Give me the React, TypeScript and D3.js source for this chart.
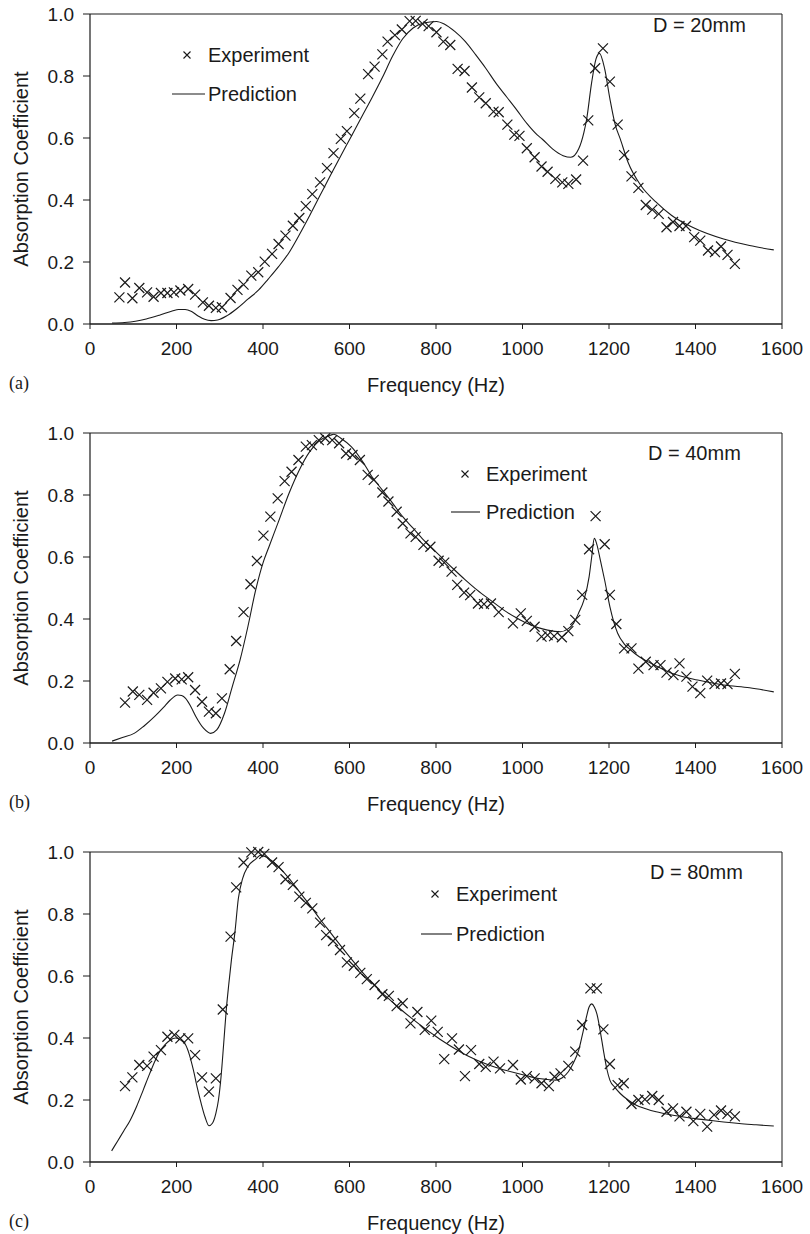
import React, { useEffect } from "react";
import * as d3 from "d3";

// frequency (Hz), absorption coefficient
const expA: [number, number][] = [
  [68, 0.086], [81, 0.134], [98, 0.083], [114, 0.116], [132, 0.102], [147, 0.088], [164, 0.1], [179, 0.1],
  [194, 0.102], [209, 0.108], [227, 0.113], [243, 0.095], [261, 0.07], [275, 0.059], [291, 0.052], [305, 0.054],
  [325, 0.084], [341, 0.11], [355, 0.127], [373, 0.156], [389, 0.167], [404, 0.201], [421, 0.226], [436, 0.258],
  [452, 0.285], [469, 0.317], [484, 0.342], [499, 0.38], [514, 0.419], [532, 0.457], [548, 0.503], [563, 0.551],
  [580, 0.597], [594, 0.622], [611, 0.68], [625, 0.727], [643, 0.806], [658, 0.83], [676, 0.87], [688, 0.911],
  [705, 0.932], [721, 0.95], [739, 0.977], [753, 0.978], [769, 0.968], [783, 0.961], [801, 0.941], [817, 0.911],
  [833, 0.9], [850, 0.823], [866, 0.816], [883, 0.763], [900, 0.731], [915, 0.712], [933, 0.685], [945, 0.683],
  [965, 0.643], [981, 0.611], [993, 0.607], [1010, 0.567], [1028, 0.538], [1044, 0.508], [1058, 0.491],
  [1076, 0.468], [1092, 0.457], [1106, 0.452], [1124, 0.466], [1140, 0.527], [1152, 0.657], [1168, 0.825],
  [1186, 0.889], [1202, 0.782], [1220, 0.643], [1235, 0.545], [1252, 0.476], [1268, 0.439], [1285, 0.384],
  [1300, 0.369], [1315, 0.355], [1333, 0.312], [1348, 0.329], [1363, 0.316], [1378, 0.316], [1397, 0.28],
  [1411, 0.269], [1429, 0.237], [1445, 0.232], [1459, 0.25], [1474, 0.223], [1491, 0.194],
];
const predA: [number, number][] = [
  [51, 0.003], [80, 0.005], [105, 0.009], [130, 0.016], [162, 0.029], [190, 0.042], [205, 0.047], [220, 0.047],
  [235, 0.04], [250, 0.026], [265, 0.015], [280, 0.011], [295, 0.013], [317, 0.027], [340, 0.05], [365, 0.08],
  [390, 0.11], [412, 0.145], [436, 0.185], [460, 0.23], [484, 0.288], [508, 0.35], [532, 0.415], [556, 0.48],
  [580, 0.543], [604, 0.605], [628, 0.668], [652, 0.73], [676, 0.795], [700, 0.865], [723, 0.92],
  [747, 0.955], [771, 0.971], [801, 0.976], [819, 0.968], [844, 0.943], [868, 0.911], [892, 0.868], [915, 0.825],
  [939, 0.776], [963, 0.733], [987, 0.69], [1010, 0.647], [1034, 0.61], [1046, 0.596], [1070, 0.564],
  [1094, 0.543], [1112, 0.538], [1130, 0.565], [1142, 0.618], [1148, 0.658], [1160, 0.78], [1170, 0.855],
  [1178, 0.873], [1190, 0.823], [1202, 0.727], [1214, 0.645], [1226, 0.597], [1244, 0.522], [1274, 0.446],
  [1309, 0.393], [1345, 0.35], [1393, 0.312], [1465, 0.274], [1525, 0.253], [1581, 0.239],
];

const expB: [number, number][] = [
  [81, 0.13], [99, 0.166], [114, 0.155], [132, 0.139], [147, 0.162], [164, 0.176], [179, 0.197], [197, 0.208],
  [212, 0.205], [227, 0.212], [243, 0.171], [259, 0.133], [275, 0.101], [291, 0.096], [305, 0.144], [323, 0.238],
  [338, 0.329], [355, 0.422], [371, 0.512], [386, 0.587], [401, 0.669], [417, 0.73], [434, 0.789], [450, 0.845],
  [466, 0.875], [482, 0.913], [499, 0.956], [513, 0.961], [529, 0.977], [544, 0.983], [560, 0.977], [576, 0.967],
  [592, 0.934], [607, 0.929], [624, 0.913], [642, 0.865], [656, 0.849], [676, 0.808], [690, 0.779], [709, 0.746],
  [723, 0.708], [741, 0.676], [753, 0.665], [771, 0.639], [787, 0.633], [806, 0.588], [819, 0.582], [836, 0.553],
  [849, 0.51], [865, 0.485], [879, 0.477], [897, 0.45], [911, 0.448], [927, 0.45], [945, 0.422], [978, 0.386],
  [996, 0.418], [1010, 0.394], [1028, 0.375], [1044, 0.343], [1058, 0.348], [1073, 0.345], [1091, 0.341],
  [1106, 0.361], [1122, 0.397], [1138, 0.478], [1154, 0.625], [1169, 0.732], [1190, 0.641], [1202, 0.478],
  [1217, 0.384], [1235, 0.305], [1252, 0.305], [1268, 0.24], [1285, 0.262], [1303, 0.251], [1319, 0.251],
  [1333, 0.227], [1349, 0.219], [1363, 0.257], [1379, 0.214], [1393, 0.182], [1411, 0.161], [1427, 0.201],
  [1444, 0.19], [1459, 0.192], [1474, 0.19], [1491, 0.223],
];
const predB: [number, number][] = [
  [51, 0.006], [75, 0.018], [102, 0.031], [125, 0.055], [149, 0.085], [170, 0.115], [185, 0.138], [203, 0.155],
  [212, 0.153], [221, 0.144], [233, 0.118], [245, 0.085], [263, 0.047], [279, 0.031], [293, 0.042], [311, 0.096],
  [329, 0.182], [347, 0.268], [365, 0.375], [383, 0.493], [401, 0.585], [413, 0.63], [436, 0.715], [460, 0.805],
  [484, 0.881], [508, 0.94], [532, 0.977], [556, 0.993], [564, 0.996], [580, 0.983], [604, 0.956], [628, 0.913],
  [652, 0.859], [676, 0.816], [700, 0.773], [723, 0.73], [747, 0.693], [771, 0.655], [795, 0.623], [819, 0.59],
  [843, 0.558], [867, 0.527], [891, 0.498], [915, 0.472], [939, 0.447], [963, 0.423], [987, 0.403], [1010, 0.386],
  [1034, 0.373], [1058, 0.364], [1088, 0.359], [1105, 0.368], [1118, 0.386], [1130, 0.42], [1142, 0.461],
  [1154, 0.536], [1160, 0.6], [1166, 0.66], [1172, 0.64], [1180, 0.59], [1190, 0.525], [1202, 0.44],
  [1220, 0.354], [1235, 0.32], [1250, 0.3], [1270, 0.278], [1297, 0.257], [1345, 0.225], [1405, 0.203],
  [1465, 0.187], [1525, 0.178], [1581, 0.165],
];

const expC: [number, number][] = [
  [81, 0.245], [98, 0.273], [114, 0.313], [132, 0.31], [147, 0.34], [164, 0.361], [179, 0.404], [195, 0.41],
  [209, 0.399], [227, 0.399], [243, 0.345], [259, 0.273], [275, 0.227], [291, 0.27], [307, 0.492], [325, 0.727],
  [338, 0.886], [355, 0.966], [373, 0.999], [389, 1.0], [403, 0.994], [421, 0.966], [436, 0.951], [452, 0.912],
  [469, 0.894], [484, 0.856], [499, 0.836], [514, 0.818], [532, 0.772], [546, 0.732], [562, 0.713], [578, 0.684],
  [594, 0.644], [610, 0.633], [625, 0.61], [640, 0.59], [658, 0.571], [676, 0.541], [691, 0.536], [709, 0.503],
  [723, 0.512], [741, 0.447], [757, 0.484], [774, 0.426], [789, 0.456], [804, 0.42], [819, 0.332], [837, 0.399],
  [853, 0.363], [867, 0.277], [881, 0.361], [900, 0.316], [915, 0.307], [933, 0.324], [948, 0.302], [978, 0.313],
  [996, 0.266], [1010, 0.277], [1028, 0.27], [1044, 0.254], [1061, 0.245], [1074, 0.275], [1088, 0.286],
  [1106, 0.31], [1122, 0.356], [1138, 0.442], [1157, 0.56], [1172, 0.56], [1187, 0.428], [1202, 0.316],
  [1220, 0.248], [1234, 0.254], [1252, 0.187], [1268, 0.2], [1283, 0.202], [1300, 0.213], [1315, 0.2],
  [1333, 0.162], [1348, 0.173], [1363, 0.147], [1379, 0.162], [1395, 0.132], [1411, 0.155], [1427, 0.114],
  [1443, 0.152], [1459, 0.166], [1474, 0.155], [1491, 0.147],
];
const predC: [number, number][] = [
  [50, 0.036], [64, 0.068], [78, 0.1], [93, 0.135], [108, 0.18], [123, 0.232], [138, 0.285], [150, 0.325],
  [161, 0.356], [173, 0.378], [185, 0.393], [198, 0.4], [210, 0.393], [221, 0.378], [230, 0.345], [239, 0.297],
  [248, 0.24], [257, 0.189], [266, 0.145], [275, 0.117], [283, 0.125], [291, 0.157], [297, 0.2], [303, 0.275],
  [309, 0.38], [315, 0.49], [321, 0.575], [327, 0.652], [335, 0.74], [343, 0.85], [353, 0.915], [365, 0.953],
  [383, 0.977], [395, 0.99], [413, 0.979], [436, 0.953], [460, 0.915], [484, 0.872], [508, 0.829], [532, 0.783],
  [556, 0.74], [580, 0.697], [604, 0.655], [628, 0.615], [652, 0.578], [676, 0.545], [700, 0.515], [723, 0.487],
  [747, 0.46], [771, 0.434], [795, 0.41], [819, 0.387], [843, 0.366], [867, 0.347], [891, 0.331], [915, 0.317],
  [939, 0.305], [963, 0.295], [987, 0.286], [1010, 0.278], [1034, 0.27], [1058, 0.266], [1076, 0.264],
  [1092, 0.272], [1106, 0.291], [1118, 0.32], [1130, 0.361], [1140, 0.42], [1148, 0.469], [1154, 0.5],
  [1160, 0.51], [1166, 0.5], [1172, 0.478], [1180, 0.42], [1187, 0.361], [1195, 0.3], [1202, 0.264],
  [1214, 0.24], [1226, 0.221], [1244, 0.2], [1262, 0.184], [1285, 0.172], [1309, 0.162], [1339, 0.153],
  [1369, 0.146], [1399, 0.14], [1429, 0.135], [1465, 0.129], [1501, 0.124], [1540, 0.12], [1581, 0.116],
];

const panelLabels = ["(a)", "(b)", "(c)"];
const depthLabels = ["D = 20mm", "D = 40mm", "D = 80mm"];
const xTicks = [0, 200, 400, 600, 800, 1000, 1200, 1400, 1600];
const yTicks = [0, 0.2, 0.4, 0.6, 0.8, 1.0];

const W = 810;
const H = 1234;
const left = 90;
const right = 782;
const plotH = 310;
const tops = [14, 433, 852];
// legend placement per panel: marker x, row y offsets, D label
const legends = [
  { mx: 187, tx: 208, lx0: 172, lx1: 205, y1: 41, y2: 80, dx: 653, dy: 11 },
  { mx: 465, tx: 486, lx0: 451, lx1: 480, y1: 41, y2: 79, dx: 648, dy: 20 },
  { mx: 435, tx: 456, lx0: 421, lx1: 452, y1: 42, y2: 82, dx: 650, dy: 20 },
];

const sans = "'Liberation Sans', Arial, Helvetica, sans-serif";
const ink = "#1a1a1a";

const x = d3.scaleLinear().domain([0, 1600]).range([left, right]);

function Cross({ cx, cy, r, w }: { cx: number; cy: number; r: number; w: number }) {
  return (
    <path
      d={`M${cx - r},${cy - r}L${cx + r},${cy + r}M${cx - r},${cy + r}L${cx + r},${cy - r}`}
      stroke={ink}
      strokeWidth={w}
      fill="none"
    />
  );
}

function Panel({ i, exp, pred }: { i: number; exp: [number, number][]; pred: [number, number][] }) {
  const top = tops[i];
  const bottom = top + plotH;
  const y = d3.scaleLinear().domain([0, 1]).range([bottom, top]);
  const line = d3
    .line<[number, number]>()
    .x((d) => x(d[0]))
    .y((d) => y(d[1]))
    .curve(d3.curveMonotoneX);
  const lg = legends[i];
  const fmt = d3.format(".1f");
  return (
    <g>
      {/* plot frame */}
      <line x1={left} x2={right} y1={top} y2={top} stroke={ink} strokeWidth={1} />
      <line x1={right} x2={right} y1={top} y2={bottom} stroke={ink} strokeWidth={1} />
      <line x1={left} x2={left} y1={top} y2={bottom} stroke={ink} strokeWidth={1.2} />
      <line x1={left} x2={right} y1={bottom} y2={bottom} stroke={ink} strokeWidth={1.6} />
      {yTicks.map((t) => (
        <g key={t}>
          <line x1={left - 7} x2={left} y1={y(t)} y2={y(t)} stroke={ink} strokeWidth={1} />
          <text x={left - 16} y={y(t)} dy="0.36em" textAnchor="end" fontSize={19} fontFamily={sans} fill={ink}>
            {fmt(t)}
          </text>
        </g>
      ))}
      {xTicks.map((t) => (
        <g key={t}>
          <line x1={x(t)} x2={x(t)} y1={bottom} y2={bottom + 5} stroke={ink} strokeWidth={1} />
          <text x={x(t)} y={bottom + 24} dy="0.36em" textAnchor="middle" fontSize={19} fontFamily={sans} fill={ink}>
            {t}
          </text>
        </g>
      ))}
      <text x={436} y={bottom + 61} dy="0.36em" textAnchor="middle" fontSize={20} fontFamily={sans} fill={ink}>
        Frequency (Hz)
      </text>
      <text x={9} y={bottom + 59} dy="0.36em" fontSize={18} fontFamily="'Liberation Serif', 'Times New Roman', serif" fill={ink}>
        {panelLabels[i]}
      </text>
      <text
        transform={`translate(21,${(top + bottom) / 2}) rotate(-90)`}
        dy="0.36em"
        textAnchor="middle"
        fontSize={20}
        fontFamily={sans}
        fill={ink}
      >
        Absorption Coefficient
      </text>
      <path d={line(pred) || ""} fill="none" stroke={ink} strokeWidth={1.1} />
      {exp.map((d, k) => (
        <Cross key={k} cx={x(d[0])} cy={y(d[1])} r={5} w={1.2} />
      ))}
      {/* legend */}
      <Cross cx={lg.mx} cy={top + lg.y1} r={3.5} w={1.1} />
      <text x={lg.tx} y={top + lg.y1} dy="0.36em" fontSize={20} fontFamily={sans} fill={ink}>
        Experiment
      </text>
      <line x1={lg.lx0} x2={lg.lx1} y1={top + lg.y2} y2={top + lg.y2} stroke={ink} strokeWidth={1.1} />
      <text x={lg.tx} y={top + lg.y2} dy="0.36em" fontSize={20} fontFamily={sans} fill={ink}>
        Prediction
      </text>
      <text x={lg.dx} y={top + lg.dy} dy="0.36em" fontSize={20} fontFamily={sans} fill={ink}>
        {depthLabels[i]}
      </text>
    </g>
  );
}

export default function App() {
  useEffect(() => {
    document.body.style.margin = "0";
  }, []);
  return (
    <svg width={W} height={H} style={{ display: "block", background: "#fff" }}>
      <rect width={W} height={H} fill="#fff" />
      <Panel i={0} exp={expA} pred={predA} />
      <Panel i={1} exp={expB} pred={predB} />
      <Panel i={2} exp={expC} pred={predC} />
    </svg>
  );
}
